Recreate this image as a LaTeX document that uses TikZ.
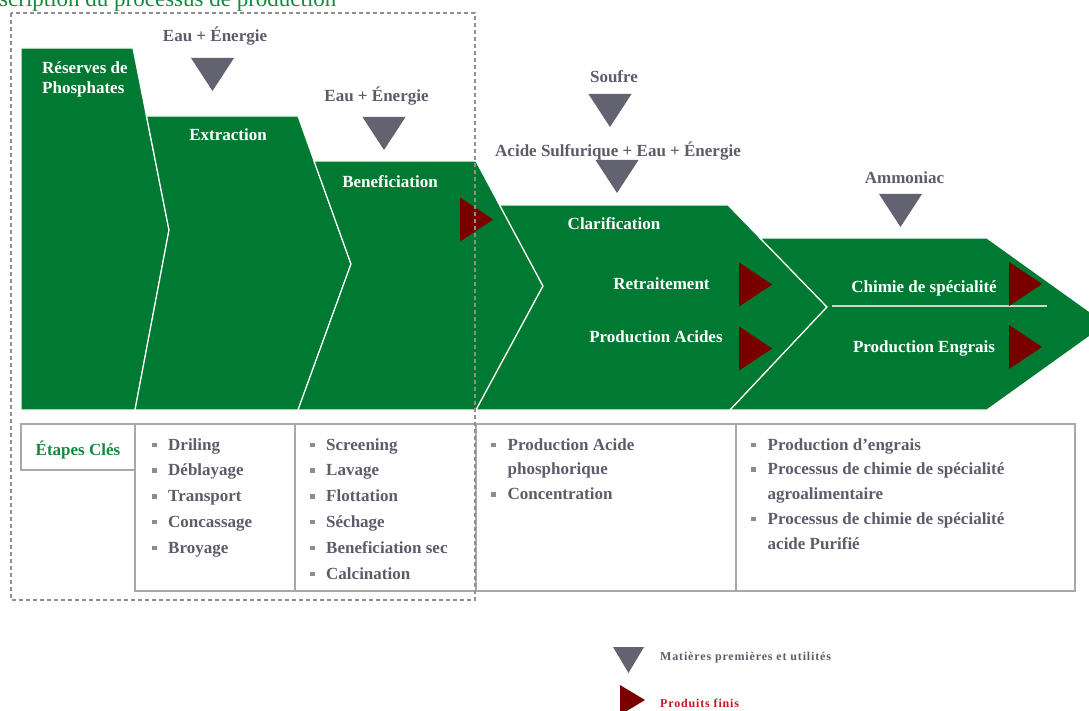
\documentclass[tikz,border=0pt]{standalone}
\usepackage{fontspec}
\setmainfont{Liberation Serif}
\definecolor{vert}{RGB}{0,122,51}
\definecolor{vertclair}{RGB}{20,138,60}
\definecolor{rouge}{RGB}{122,0,0}
\definecolor{rougetexte}{RGB}{200,20,30}
\definecolor{gristri}{RGB}{98,98,112}
\definecolor{gristexte}{RGB}{92,92,106}
\definecolor{grisligne}{RGB}{168,168,168}
\definecolor{grispuce}{RGB}{140,140,150}
\newcommand{\carre}{\textcolor{grispuce}{\rule[3pt]{4.5pt}{4.5pt}}}
\begin{document}
\begin{tikzpicture}[x=1pt, y=-1pt, >=latex]
	\tikzstyle{chevron} = [fill=vert, draw=white, line width=1.2pt]
	\tikzstyle{blanc} = [text=white, font=\fontsize{17}{20}\selectfont\bfseries, inner sep=0pt, anchor=base]
	\tikzstyle{intrant} = [text=gristexte, font=\fontsize{17}{20}\selectfont\bfseries, inner sep=0pt, anchor=base]
	\tikzstyle{liste} = [text=gristexte, font=\fontsize{17}{25.8}\selectfont\bfseries, inner sep=0pt, anchor=base west]
	\tikzstyle{legende} = [font=\fontsize{12}{14}\selectfont\bfseries\addfontfeature{LetterSpace=7}, inner sep=0pt, anchor=base west]
	\tikzstyle{cadre} = [draw=grisligne, line width=1.5pt]
	\useasboundingbox (0,0) rectangle (1089,711);
	\clip (0,0) rectangle (1089,711);
	% titre
	\node (titre) [anchor=base west, inner sep=0pt, text=vertclair, font=\fontsize{23}{28}\selectfont] at (-1,7) {scription du processus de production};
	% chevrons
	\path[chevron] (21,48) -- (133,48) -- (169,230) -- (135,410) -- (21,410) -- cycle;
	\path[chevron] (146.5,116) -- (298,116) -- (351,264) -- (298,410) -- (135,410) -- (169,230) -- cycle;
	\path[chevron] (314,161) -- (476,161) -- (543,286) -- (476,410) -- (298,410) -- (351,264) -- cycle;
	\path[chevron] (499.6,205) -- (728,205) -- (827,307) -- (730,410) -- (476,410) -- (543,286) -- cycle;
	\path[chevron] (760,238) -- (987,238) -- (1107,324) -- (987,410) -- (730,410) -- (827,307) -- cycle;
	\draw[white!65!gray, line width=1.2pt] (832,306) -- (1047,306);
	% matieres premieres et produits
	\foreach \x/\y in {212.5/91, 384/150, 610/127, 617/193, 900.5/227}
		\fill[gristri] (\x,\y) -- ++(-21.5,-33) -- ++(43,0) -- cycle;
	\foreach \x/\y in {493/219.5, 772/284.5, 772/348.5, 1042/284, 1042/347}
		\fill[rouge] (\x,\y) -- ++(-33,-22) -- ++(0,44) -- cycle;
	% etapes
	\node (reserves) [blanc, align=left, anchor=north west] at (42,61.5) {Réserves de\\Phosphates};
	\node (extraction) [blanc] at (228,141) {Extraction};
	\node (benef) [blanc] at (390,188) {Beneficiation};
	\node (clarif) [blanc] at (614,230) {Clarification};
	\node (retrait) [blanc] at (661.5,290) {Retraitement};
	\node (acides) [blanc] at (656,342) {Production Acides};
	\node (chimie) [blanc] at (924,292) {Chimie de spécialité};
	\node (engrais) [blanc] at (924,352) {Production Engrais};
	% intrants
	\node (eau1) [intrant] at (215,42) {Eau + Énergie};
	\node (eau2) [intrant] at (376.5,102) {Eau + Énergie};
	\node (soufre) [intrant] at (614,83) {Soufre};
	\node (acide) [intrant] at (618,157) {Acide Sulfurique + Eau + Énergie};
	\node (ammoniac) [intrant] at (904.5,184) {Ammoniac};
	% tableau
	\draw[cadre] (21,424) rectangle (135,470);
	\draw[cadre] (135,424) rectangle (1075,591);
	\foreach \x in {295,476,736}
		\draw[cadre] (\x,424) -- (\x,591);
	\node (cles) [inner sep=0pt, anchor=base, text=vertclair, font=\fontsize{17}{20}\selectfont\bfseries] at (78,455) {Étapes Clés};
	\node (liste1) [liste] at (152,450) {\begin{tabular}[t]{@{}l@{\hspace{11.5pt}}l@{}}
		\carre & Driling\\ \carre & Déblayage\\ \carre & Transport\\ \carre & Concassage\\ \carre & Broyage
	\end{tabular}};
	\node (liste2) [liste] at (310,450) {\begin{tabular}[t]{@{}l@{\hspace{11.5pt}}l@{}}
		\carre & Screening\\ \carre & Lavage\\ \carre & Flottation\\ \carre & Séchage\\ \carre & Beneficiation sec\\ \carre & Calcination
	\end{tabular}};
	\node (liste3) [liste, font=\fontsize{17}{24.8}\selectfont\bfseries] at (491,450) {\begin{tabular}[t]{@{}l@{\hspace{12pt}}l@{}}
		\carre & Production Acide\\ & phosphorique\\ \carre & Concentration
	\end{tabular}};
	\node (liste4) [liste, font=\fontsize{17}{24.8}\selectfont\bfseries] at (751,450) {\begin{tabular}[t]{@{}l@{\hspace{12pt}}l@{}}
		\carre & Production d’engrais\\ \carre & Processus de chimie de spécialité\\ & agroalimentaire\\ \carre & Processus de chimie de spécialité\\ & acide Purifié
	\end{tabular}};
	% zone en pointilles
	\draw[grisligne!85!black, line width=1.5pt, dash pattern=on 4pt off 3pt] (11,13) rectangle (475,600);
	% legende
	\fill[gristri] (628.5,673) -- ++(-15.5,-26) -- ++(31,0) -- cycle;
	\fill[rouge] (645,700) -- ++(-25,-15) -- ++(0,30) -- cycle;
	\node (leg1) [legende, text=gristexte] at (660,660) {Matières premières et utilités};
	\node (leg2) [legende, text=rougetexte] at (660,707) {Produits finis};
\end{tikzpicture}
\end{document}
